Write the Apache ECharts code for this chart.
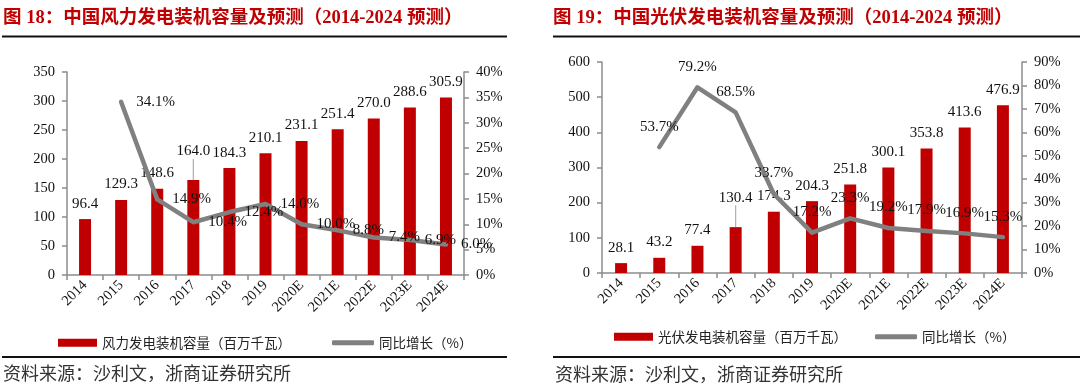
<!DOCTYPE html>
<html>
<head>
<meta charset="utf-8">
<script src="https://cdn.jsdelivr.net/npm/echarts@6/dist/echarts.min.js"></script>
<style>html,body{margin:0;padding:0;background:#fff;}#c{width:1080px;height:392px;}</style>
</head>
<body>
<div id="c"></div>
<script>
const years = ['2014','2015','2016','2017','2018','2019','2020E','2021E','2022E','2023E','2024E'];
const windCapacity = [96.4, 129.3, 148.6, 164.0, 184.3, 210.1, 231.1, 251.4, 270.0, 288.6, 305.9];
const windGrowth = [null, 34.1, 14.9, 10.4, 12.4, 14.0, 10.0, 8.8, 7.4, 6.9, 6.0];
const solarCapacity = [28.1, 43.2, 77.4, 130.4, 174.3, 204.3, 251.8, 300.1, 353.8, 413.6, 476.9];
const solarGrowth = [null, 53.7, 79.2, 68.5, 33.7, 17.2, 23.3, 19.2, 17.9, 16.9, 15.3];
const windTitle = '图 18：中国风力发电装机容量及预测（2014-2024 预测）';
const solarTitle = '图 19：中国光伏发电装机容量及预测（2014-2024 预测）';
const windBarName = '风力发电装机容量（百万千瓦）';
const solarBarName = '光伏发电装机容量（百万千瓦）';
const growthName = '同比增长（%）';
const sourceText = '资料来源：沙利文，浙商证券研究所';

const SERIF = '"Liberation Serif", "Times New Roman", serif';
const CJK = '"Noto Sans CJK SC", sans-serif';
const RED = '#C00000';
const GREY = '#808080';
const AX = '#8c8c8c';

const chart = echarts.init(document.getElementById('c'), null, {renderer: 'canvas'});

function xAxis(gi) {
  return {
    type: 'category', gridIndex: gi, data: years, boundaryGap: true,
    axisLine: {lineStyle: {color: AX, width: 1.5}},
    axisTick: {show: true, length: 5, lineStyle: {color: AX, width: 1.5}},
    axisLabel: {rotate: 45, fontSize: 14.5, fontFamily: SERIF, color: '#111', margin: 8, interval: 0}
  };
}
function yAxis(gi, pos, max, interval, pct) {
  return {
    type: 'value', gridIndex: gi, position: pos, min: 0, max: max, interval: interval,
    axisLine: {show: true, lineStyle: {color: AX, width: 1.5}},
    axisTick: {show: true, length: 5, lineStyle: {color: AX, width: 1.5}},
    splitLine: {show: false},
    axisLabel: {fontSize: 14.5, fontFamily: SERIF, color: '#111', margin: 12,
      formatter: pct ? '{value}%' : '{value}'}
  };
}
function barData(arr, raisedIdx) {
  return arr.map((v, i) => i === raisedIdx ? {value: v, labelLine: {show: true, lineStyle: {color: '#b0b0b0', width: 1.2}}} : v);
}
function barSeries(name, arr, xi, yi, raisedIdx, dy) {
  return {
    type: 'bar', name: name, xAxisIndex: xi, yAxisIndex: yi, data: barData(arr, raisedIdx),
    barWidth: 12, itemStyle: {color: RED},
    label: {show: true, position: 'top', distance: 8, fontSize: 15, fontFamily: SERIF, color: '#111',
      formatter: p => p.value.toFixed(1)},
    labelLayout: p => p.dataIndex === raisedIdx ? {dy: dy} : {},
    z: 2
  };
}
function lineSeries(arr, xi, yi, pos, dist) {
  return {
    type: 'line', name: growthName, xAxisIndex: xi, yAxisIndex: yi, data: arr,
    symbol: 'circle', symbolSize: 2, showSymbol: true, showAllSymbol: true, connectNulls: false,
    lineStyle: {color: GREY, width: 4.5, join: 'round', cap: 'round'},
    itemStyle: {color: GREY},
    label: {show: true, position: pos, distance: dist, fontSize: 15, fontFamily: SERIF, color: '#111',
      formatter: p => (p.value == null ? '' : Number(p.value).toFixed(1) + '%')},
    z: 3
  };
}
function legendBar(name, left, top) {
  return {
    data: [{name: name, icon: 'rect'}], left: left, top: top, itemWidth: 39, itemHeight: 8, itemGap: 0,
    textStyle: {fontSize: 13.5, fontFamily: CJK, color: '#222'}, selectedMode: false
  };
}
function legendLine(left, top) {
  return {
    data: [{name: growthName, icon: 'roundRect'}], left: left, top: top, itemWidth: 42, itemHeight: 5, itemGap: 0,
    itemStyle: {color: GREY, opacity: 1},
    textStyle: {fontSize: 13.5, fontFamily: CJK, color: '#222'}, selectedMode: false
  };
}

const TF = 'bold 18.5px "Liberation Serif", ' + CJK;
const option = {
  animation: false,
  backgroundColor: '#fff',
  grid: [
    {left: 67, right: 1080 - 464, top: 72, bottom: 392 - 275},
    {left: 602, right: 1080 - 1022, top: 62, bottom: 392 - 273}
  ],
  xAxis: [xAxis(0), xAxis(1)],
  yAxis: [
    yAxis(0, 'left', 350, 50, false),
    yAxis(0, 'right', 40, 5, true),
    yAxis(1, 'left', 600, 100, false),
    yAxis(1, 'right', 90, 10, true)
  ],
  legend: [
    legendBar(windBarName, 53, 331),
    legendLine(327, 331),
    legendBar(solarBarName, 609, 325),
    legendLine(870, 325)
  ],
  series: [
    barSeries(windBarName, windCapacity, 0, 0, 3, -13),
    lineSeries(windGrowth, 0, 1, 'right', 14),
    barSeries(solarBarName, solarCapacity, 1, 2, 3, -14),
    lineSeries(solarGrowth, 1, 3, 'top', 12)
  ],
  graphic: [
    {type: 'text', left: 3, top: 9, style: {text: windTitle, font: TF, fill: RED}},
    {type: 'text', left: 553, top: 9, style: {text: solarTitle, font: TF, fill: RED}},
    {type: 'rect', shape: {x: 2, y: 35.5, width: 505, height: 2}, style: {fill: '#111'}},
    {type: 'rect', shape: {x: 553, y: 35.5, width: 527, height: 2}, style: {fill: '#111'}},
    {type: 'rect', shape: {x: 2, y: 356, width: 505, height: 2}, style: {fill: '#111'}},
    {type: 'rect', shape: {x: 553, y: 356, width: 527, height: 2}, style: {fill: '#111'}},
    {type: 'text', left: 3, top: 364, style: {text: sourceText, font: '18px ' + CJK, fill: '#333'}},
    {type: 'text', left: 555, top: 365, style: {text: sourceText, font: '18px ' + CJK, fill: '#333'}}
  ]
};
chart.setOption(option);
</script>
</body>
</html>
